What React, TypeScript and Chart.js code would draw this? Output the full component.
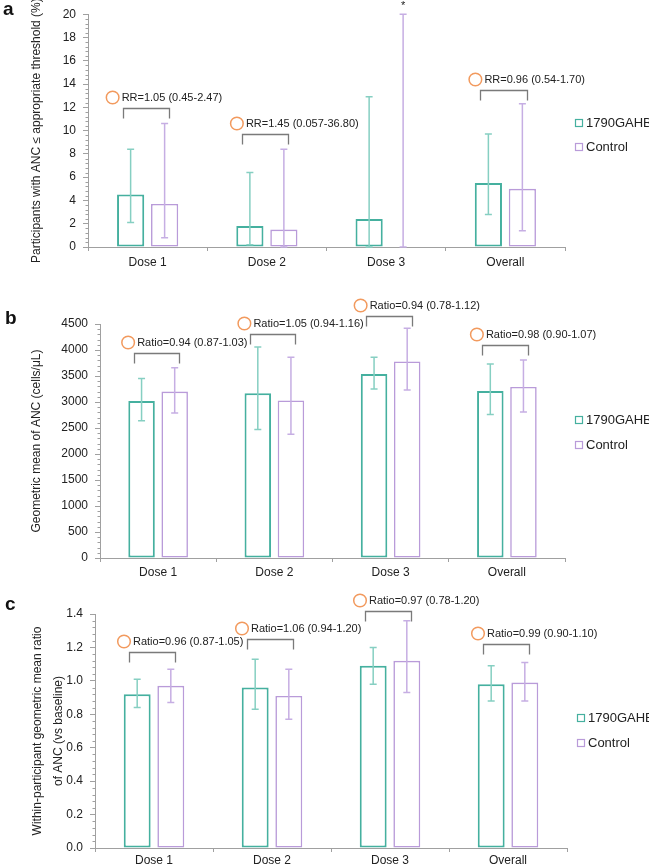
import React, { useEffect, useRef } from 'react';
import { Chart, registerables } from 'chart.js';

Chart.register(...registerables);

const FONT = '"Liberation Sans", Arial, Helvetica, sans-serif';

// ---------- data ----------
const categories = ['Dose 1', 'Dose 2', 'Dose 3', 'Overall'];
const seriesNames = ['1790GAHB', 'Control'];

// panel a: participants with ANC <= threshold (%)
const aVaccine = [4.5, 1.8, 2.4, 5.5];
const aVaccineLow = [2.1, 0.2, 0, 2.8];
const aVaccineHigh = [8.4, 6.4, 12.9, 9.7];
const aControl = [3.7, 1.5, 0, 5.0];
const aControlLow = [0.8, 0, 0, 1.4];
const aControlHigh = [10.6, 8.4, 20, 12.3];
const aControlFlags = ['', '', '*', ''];
const aLabels = ['RR=1.05 (0.45-2.47)', 'RR=1.45 (0.057-36.80)', '', 'RR=0.96 (0.54-1.70)'];
const aBracketLevel = [11.9, 9.7, 0, 13.5];

// panel b: geometric mean ANC (cells/µL)
const bVaccine = [3020, 3170, 3540, 3210];
const bVaccineLow = [2640, 2470, 3250, 2760];
const bVaccineHigh = [3450, 4060, 3860, 3730];
const bControl = [3200, 3030, 3780, 3290];
const bControlLow = [2790, 2380, 3230, 2810];
const bControlHigh = [3660, 3860, 4420, 3810];
const bLabels = ['Ratio=0.94 (0.87-1.03)', 'Ratio=1.05 (0.94-1.16)', 'Ratio=0.94 (0.78-1.12)', 'Ratio=0.98 (0.90-1.07)'];
const bBracketLevel = [3950, 4310, 4660, 4100];

// panel c: within-participant GMR vs baseline
const cVaccine = [0.92, 0.96, 1.09, 0.98];
const cVaccineLow = [0.84, 0.83, 0.98, 0.88];
const cVaccineHigh = [1.01, 1.13, 1.2, 1.09];
const cControl = [0.97, 0.91, 1.12, 0.99];
const cControlLow = [0.87, 0.77, 0.93, 0.88];
const cControlHigh = [1.07, 1.07, 1.36, 1.11];
const cLabels = ['Ratio=0.96 (0.87-1.05)', 'Ratio=1.06 (0.94-1.20)', 'Ratio=0.97 (0.78-1.20)', 'Ratio=0.99 (0.90-1.10)'];
const cBracketLevel = [1.17, 1.25, 1.42, 1.22];

// ---------- styles ----------
const TEAL = '#45b09f';
const TEAL_ERR = '#86cfc2';
const PURPLE = '#b99bd9';
const PURPLE_ERR = '#c6aee3';
const ORANGE = '#f29a5e';
const AXIS = '#a0a0a0';
const TEXT = '#222222';
const BRACKET = '#7a7a7a';

type PanelDef = {
  letter: string;
  letterTop: number;
  letterLeft: number;
  top: number;
  height: number;
  padTop: number;
  padRight: number;
  yAxisWidth: number;
  xAxisHeight: number;
  xTickPad: number;
  yMax: number;
  yStep: number;
  minorPerMajor: number;
  decimals: number;
  title: string | string[];
  titleLineHeight: number;
  titlePad: number;
  legendDy: number[];
  labelShift: number[];
  vaccine: number[];
  vaccineLow: number[];
  vaccineHigh: number[];
  control: number[];
  controlLow: number[];
  controlHigh: number[];
  controlFlags: string[];
  labels: string[];
  bracket: number[];
};

const panels: PanelDef[] = [
  {
    letter: 'a', letterTop: -3, letterLeft: 3,
    top: 0, height: 283, padTop: 13, padRight: 84, yAxisWidth: 88, xAxisHeight: 36, xTickPad: 4,
    yMax: 20, yStep: 2, minorPerMajor: 5, decimals: 0,
    title: 'Participants with ANC ≤ appropriate threshold (%)', titleLineHeight: 1.2, titlePad: 29,
    legendDy: [-8, 16], labelShift: [-5, 0, 0, 0],
    vaccine: aVaccine, vaccineLow: aVaccineLow, vaccineHigh: aVaccineHigh,
    control: aControl, controlLow: aControlLow, controlHigh: aControlHigh, controlFlags: aControlFlags,
    labels: aLabels, bracket: aBracketLevel,
  },
  {
    letter: 'b', letterTop: 306, letterLeft: 5,
    top: 283, height: 300, padTop: 41, padRight: 84, yAxisWidth: 100, xAxisHeight: 25, xTickPad: 3.5,
    yMax: 4500, yStep: 500, minorPerMajor: 5, decimals: 0,
    title: 'Geometric mean of ANC (cells/μL)', titleLineHeight: 1.2, titlePad: 29,
    legendDy: [-21, 4], labelShift: [0, 0, 0, 0],
    vaccine: bVaccine, vaccineLow: bVaccineLow, vaccineHigh: bVaccineHigh,
    control: bControl, controlLow: bControlLow, controlHigh: bControlHigh, controlFlags: ['', '', '', ''],
    labels: bLabels, bracket: bBracketLevel,
  },
  {
    letter: 'c', letterTop: 592, letterLeft: 5,
    top: 583, height: 283, padTop: 31, padRight: 82, yAxisWidth: 95, xAxisHeight: 18, xTickPad: 1,
    yMax: 1.4, yStep: 0.2, minorPerMajor: 5, decimals: 1,
    title: ['Within-participant geometric mean ratio', 'of ANC (vs baseline)'], titleLineHeight: 1.75, titlePad: 27,
    legendDy: [-13, 12], labelShift: [0, 0, 0, 0],
    vaccine: cVaccine, vaccineLow: cVaccineLow, vaccineHigh: cVaccineHigh,
    control: cControl, controlLow: cControlLow, controlHigh: cControlHigh, controlFlags: ['', '', '', ''],
    labels: cLabels, bracket: cBracketLevel,
  },
];

const extrasPlugin = {
  id: 'panelExtras',
  afterDraw(chart: any) {
    const cfg = chart.options.plugins.panelExtras as PanelDef;
    if (!cfg) return;
    const { ctx, chartArea } = chart;
    const xs = chart.scales.x;
    const ys = chart.scales.y;
    ctx.save();

    // minor ticks on y axis
    ctx.strokeStyle = AXIS;
    ctx.lineWidth = 1;
    const minor = cfg.yStep / cfg.minorPerMajor;
    const n = Math.round(cfg.yMax / minor);
    const ax = Math.round(chartArea.left) + 0.5;
    for (let k = 0; k <= n; k++) {
      if (k % cfg.minorPerMajor === 0) continue;
      const py = Math.round(ys.getPixelForValue(k * minor)) + 0.5;
      ctx.beginPath();
      ctx.moveTo(ax - 3, py);
      ctx.lineTo(ax, py);
      ctx.stroke();
    }

    // error bars
    const errs = [
      { low: cfg.vaccineLow, high: cfg.vaccineHigh, color: TEAL_ERR, flags: null as string[] | null },
      { low: cfg.controlLow, high: cfg.controlHigh, color: PURPLE_ERR, flags: cfg.controlFlags },
    ];
    errs.forEach((e, di) => {
      const meta = chart.getDatasetMeta(di);
      ctx.strokeStyle = e.color;
      ctx.lineWidth = 1.5;
      meta.data.forEach((el: any, i: number) => {
        const px = el.x;
        const yl = ys.getPixelForValue(e.low[i]);
        const yh = ys.getPixelForValue(e.high[i]);
        ctx.beginPath();
        ctx.moveTo(px, yl);
        ctx.lineTo(px, yh);
        ctx.moveTo(px - 3.5, yl);
        ctx.lineTo(px + 3.5, yl);
        ctx.moveTo(px - 3.5, yh);
        ctx.lineTo(px + 3.5, yh);
        ctx.stroke();
        if (e.flags && e.flags[i]) {
          ctx.fillStyle = TEXT;
          ctx.font = `11px ${FONT}`;
          ctx.textAlign = 'center';
          ctx.textBaseline = 'alphabetic';
          ctx.fillText(e.flags[i], px, yh - 5);
        }
      });
    });

    // brackets + ratio labels
    const m0 = chart.getDatasetMeta(0);
    const m1 = chart.getDatasetMeta(1);
    cfg.labels.forEach((text, i) => {
      if (!text) return;
      const x0 = Math.round(m0.data[i].x - 8) + 0.5;
      const x1 = Math.round(m1.data[i].x + 4.5) + 0.5;
      const yt = Math.round(ys.getPixelForValue(cfg.bracket[i])) + 0.5;
      ctx.strokeStyle = BRACKET;
      ctx.lineWidth = 1.3;
      ctx.beginPath();
      ctx.moveTo(x0, yt + 10);
      ctx.lineTo(x0, yt);
      ctx.lineTo(x1, yt);
      ctx.lineTo(x1, yt + 10);
      ctx.stroke();

      const cx = xs.getPixelForValue(i) - 30 + cfg.labelShift[i];
      const cy = yt - 11;
      ctx.strokeStyle = ORANGE;
      ctx.lineWidth = 1.5;
      ctx.beginPath();
      ctx.arc(cx, cy, 6.3, 0, Math.PI * 2);
      ctx.stroke();

      ctx.fillStyle = TEXT;
      ctx.font = `11px ${FONT}`;
      ctx.textAlign = 'left';
      ctx.textBaseline = 'middle';
      ctx.fillText(text, cx + 9, cy + 0.5);
    });

    // legend
    const midY = (chartArea.top + chartArea.bottom) / 2;
    const lx = Math.round(chartArea.right) + 10;
    const colors = [TEAL, PURPLE];
    seriesNames.forEach((name, i) => {
      const ly = Math.round(midY + cfg.legendDy[i]);
      ctx.strokeStyle = colors[i];
      ctx.lineWidth = 1.2;
      ctx.strokeRect(lx + 0.5, ly - 3.5, 7, 7);
      ctx.fillStyle = TEXT;
      ctx.font = `13px ${FONT}`;
      ctx.textAlign = 'left';
      ctx.textBaseline = 'middle';
      ctx.fillText(name, lx + 11, ly + 0.5);
    });

    ctx.restore();
  },
};

function Panel({ def }: { def: PanelDef }) {
  const ref = useRef<HTMLCanvasElement | null>(null);
  useEffect(() => {
    const canvas = ref.current;
    if (!canvas) return;
    const chart = new Chart(canvas, {
      type: 'bar',
      data: {
        labels: categories,
        datasets: [
          {
            label: seriesNames[0],
            data: def.vaccine,
            backgroundColor: '#ffffff',
            borderColor: TEAL,
            borderWidth: 2,
            borderSkipped: false,
            categoryPercentage: 0.57,
            barPercentage: 0.8,
          },
          {
            label: seriesNames[1],
            data: def.control,
            backgroundColor: '#ffffff',
            borderColor: PURPLE,
            borderWidth: 1.6,
            borderSkipped: false,
            categoryPercentage: 0.57,
            barPercentage: 0.8,
          },
        ],
      },
      options: {
        responsive: false,
        animation: false,
        devicePixelRatio: 1,
        layout: { padding: { top: def.padTop, right: def.padRight, left: 0, bottom: 0 } },
        font: { family: FONT, size: 12 },
        plugins: {
          legend: { display: false },
          tooltip: { enabled: false },
          panelExtras: def,
        } as any,
        scales: {
          x: {
            type: 'category',
            grid: { display: true, drawOnChartArea: false, drawTicks: true, tickLength: 4, color: AXIS, offset: true },
            border: { display: true, color: AXIS, width: 1 },
            ticks: { color: TEXT, font: { family: FONT, size: 12 }, padding: def.xTickPad, maxRotation: 0, autoSkip: false },
            afterFit: (s: any) => { s.height = def.xAxisHeight; },
          },
          y: {
            type: 'linear',
            min: 0,
            max: def.yMax,
            ticks: {
              stepSize: def.yStep,
              color: TEXT,
              font: { family: FONT, size: 12 },
              padding: 7,
              callback: (v: any) => Number(v).toFixed(def.decimals),
            },
            grid: { display: true, drawOnChartArea: false, drawTicks: true, tickLength: 5, color: AXIS },
            border: { display: true, color: AXIS, width: 1 },
            title: {
              display: true,
              text: def.title,
              color: TEXT,
              font: { family: FONT, size: 12, lineHeight: def.titleLineHeight },
              padding: { top: def.titlePad, bottom: 0 },
            },
            afterFit: (s: any) => { s.width = def.yAxisWidth; },
          },
        },
      } as any,
      plugins: [extrasPlugin],
    });
    return () => chart.destroy();
  }, [def]);

  return (
    <>
      <canvas
        ref={ref}
        width={649}
        height={def.height}
        style={{ position: 'absolute', left: 0, top: def.top, width: 649, height: def.height, display: 'block' }}
      />
      <div
        style={{
          position: 'absolute',
          left: def.letterLeft,
          top: def.letterTop,
          font: `bold 19px ${FONT}`,
          color: '#111',
          lineHeight: '24px',
        }}
      >
        {def.letter}
      </div>
    </>
  );
}

export default function App() {
  useEffect(() => {
    document.body.style.margin = '0';
    document.body.style.background = '#ffffff';
  }, []);
  return (
    <div style={{ position: 'relative', width: 649, height: 866, background: '#fff', overflow: 'hidden' }}>
      {panels.map((p) => (
        <Panel key={p.letter} def={p} />
      ))}
    </div>
  );
}
